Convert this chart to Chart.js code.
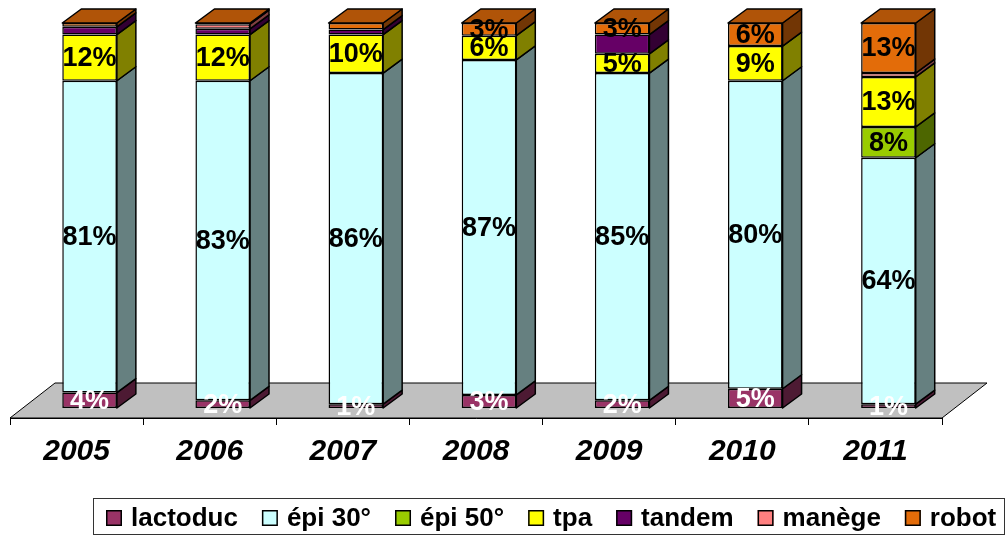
<!DOCTYPE html>
<html lang="fr">
<head>
<meta charset="utf-8">
<script src="https://cdn.jsdelivr.net/npm/chart.js@4.4.1/dist/chart.umd.min.js"></script>
<style>
  html, body { margin: 0; padding: 0; background: #fff; }
</style>
</head>
<body>
<canvas id="graphique" width="1008" height="536"></canvas>
<script>
// données (parts en %)
const annees = ['2005', '2006', '2007', '2008', '2009', '2010', '2011'];
const lactoduc = [4, 2, 1, 3.4, 2, 5, 1];
const epi30 = [81, 83, 86, 87, 85, 80, 64];
const epi50 = [0, 0, 0, 0, 0, 0, 8];
const tpa = [12, 12, 10, 6.3, 5, 9, 13];
const tandem = [2, 1.5, 1.3, 0, 5, 0, 0];
const manege = [0, 1.2, 0, 0, 0, 0, 1];
const robot = [1, 0.3, 1.7, 3.3, 3, 6, 13];

const POLICE = 'Arial, "Liberation Sans", sans-serif';

// face avant, côté, dessus, couleur de l'étiquette (null = pas d'étiquette), seuil d'affichage
const series = [
  { label: 'lactoduc', data: lactoduc, face: '#993366', cote: '#4D1A33', dessus: '#7A2952', texte: '#FFFFFF', seuil: 0 },
  { label: 'épi 30°', data: epi30, face: '#CCFFFF', cote: '#668080', dessus: '#A3CCCC', texte: '#000000', seuil: 2.5 },
  { label: 'épi 50°', data: epi50, face: '#99CC00', cote: '#4D6600', dessus: '#7AA300', texte: '#000000', seuil: 2.5 },
  { label: 'tpa', data: tpa, face: '#FFFF00', cote: '#808000', dessus: '#CCCC00', texte: '#000000', seuil: 2.5 },
  { label: 'tandem', data: tandem, face: '#660066', cote: '#330033', dessus: '#520052', texte: null, seuil: 0 },
  { label: 'manège', data: manege, face: '#FF8080', cote: '#804040', dessus: '#CC6666', texte: null, seuil: 0 },
  { label: 'robot', data: robot, face: '#E36C09', cote: '#723605', dessus: '#B05408', texte: '#000000', seuil: 2.5 },
];

const PROF_X = 19, PROF_Y = 14;   // profondeur des barres
const SOL_X = 45, SOL_Y = 35;     // profondeur du sol
const DECAL_X = 13, DECAL_Y = 10; // barres posées au milieu du sol

function polygone(ctx, pts, couleur) {
  ctx.beginPath();
  ctx.moveTo(pts[0][0], pts[0][1]);
  for (let k = 1; k < pts.length; k++) ctx.lineTo(pts[k][0], pts[k][1]);
  ctx.closePath();
  ctx.fillStyle = couleur;
  ctx.fill();
  ctx.stroke();
}

const effet3d = {
  id: 'effet3d',
  beforeDatasetsDraw(chart) {
    const { ctx, chartArea: a } = chart;
    ctx.save();
    ctx.strokeStyle = '#000';
    ctx.lineWidth = 1;
    polygone(ctx, [
      [a.left, a.bottom], [a.right, a.bottom],
      [a.right + SOL_X, a.bottom - SOL_Y], [a.left + SOL_X, a.bottom - SOL_Y]
    ], '#C0C0C0');
    ctx.translate(DECAL_X, -DECAL_Y);
  },
  afterDatasetsDraw(chart) {
    const ctx = chart.ctx;
    const datasets = chart.data.datasets;
    ctx.strokeStyle = '#000';
    ctx.lineWidth = 1.5;
    ctx.lineJoin = 'round';

    // côtés droits
    datasets.forEach((ds, i) => {
      chart.getDatasetMeta(i).data.forEach((bar, j) => {
        if (!ds.data[j]) return;
        const { x, y, base, width } = bar.getProps(['x', 'y', 'base', 'width'], true);
        const d = x + width / 2;
        polygone(ctx, [[d, y], [d + PROF_X, y - PROF_Y], [d + PROF_X, base - PROF_Y], [d, base]], ds.cote);
      });
    });

    // dessus du segment le plus haut
    annees.forEach((_, j) => {
      for (let i = datasets.length - 1; i >= 0; i--) {
        if (!datasets[i].data[j]) continue;
        const bar = chart.getDatasetMeta(i).data[j];
        const { x, y, width } = bar.getProps(['x', 'y', 'width'], true);
        const g = x - width / 2, d = x + width / 2;
        polygone(ctx, [[g, y], [g + PROF_X, y - PROF_Y], [d + PROF_X, y - PROF_Y], [d, y]], datasets[i].dessus);
        break;
      }
    });

    // étiquettes
    ctx.font = 'bold 27px ' + POLICE;
    ctx.textAlign = 'center';
    ctx.textBaseline = 'middle';
    datasets.forEach((ds, i) => {
      if (!ds.texte) return;
      chart.getDatasetMeta(i).data.forEach((bar, j) => {
        const v = ds.data[j];
        if (!v || v < ds.seuil) return;
        const { x, y, base } = bar.getProps(['x', 'y', 'base'], true);
        ctx.fillStyle = ds.texte;
        ctx.fillText(Math.round(v) + '%', x, (y + base) / 2 + 1);
      });
    });
    ctx.restore();
  },
  afterDraw(chart) {
    // légende encadrée
    const ctx = chart.ctx;
    ctx.save();
    ctx.strokeStyle = '#333';
    ctx.lineWidth = 1;
    ctx.strokeRect(93.5, 498.5, 911, 36);
    ctx.font = 'bold 26px ' + POLICE;
    ctx.textBaseline = 'middle';
    ctx.textAlign = 'left';
    let x = 106;
    chart.data.datasets.forEach(ds => {
      ctx.fillStyle = ds.backgroundColor;
      ctx.fillRect(x, 510, 16, 16);
      ctx.lineWidth = 1.5;
      ctx.strokeStyle = '#000';
      ctx.strokeRect(x + 0.75, 510.75, 14.5, 14.5);
      ctx.fillStyle = '#000';
      ctx.fillText(ds.label, x + 25, 519);
      x += 25 + ctx.measureText(ds.label).width + 24;
    });
    ctx.restore();
  }
};

new Chart(document.getElementById('graphique'), {
  type: 'bar',
  data: {
    labels: annees,
    datasets: series.map(s => ({
      label: s.label,
      data: s.data,
      backgroundColor: s.face,
      borderColor: '#000',
      borderWidth: 1.5,
      borderSkipped: false,
      cote: s.cote,
      dessus: s.dessus,
      texte: s.texte,
      seuil: s.seuil,
      categoryPercentage: 1,
      barPercentage: 0.41,
      clip: false,
    })),
  },
  options: {
    responsive: false,
    devicePixelRatio: 1,
    animation: false,
    layout: { padding: { top: 33, left: 10, right: 66, bottom: 74 } },
    plugins: {
      legend: { display: false },
      tooltip: { enabled: false },
    },
    scales: {
      x: {
        stacked: true,
        grid: { offset: true, drawOnChartArea: false, drawTicks: true, tickLength: 7, color: '#000', lineWidth: 1 },
        border: { display: true, color: '#000' },
        ticks: { color: '#000', padding: 9, maxRotation: 0, font: { family: POLICE, size: 30, weight: 'bold', style: 'italic' } },
        afterFit: s => { s.height = 44; },
      },
      y: { stacked: true, display: false, min: 0, max: 100 },
    },
  },
  plugins: [effet3d],
});
</script>
</body>
</html>
